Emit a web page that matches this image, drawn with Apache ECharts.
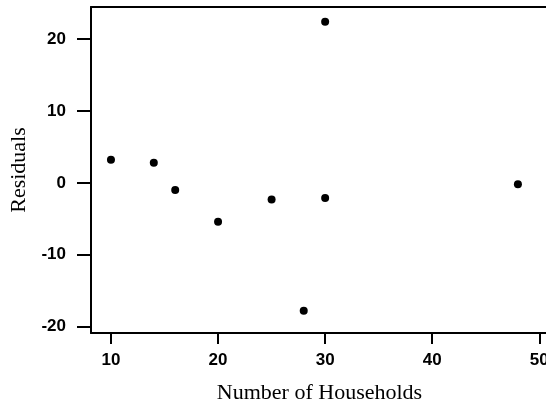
<!DOCTYPE html>
<html>
<head>
<meta charset="utf-8">
<script src="https://cdn.jsdelivr.net/npm/echarts@6/dist/echarts.min.js"></script>
<style>
  html, body { margin: 0; padding: 0; background: #fff; }
  #chart { width: 546px; height: 407px; }
</style>
</head>
<body>
<div id="chart"></div>
<script>
// Residuals plotted against number of households
const households = [10, 14, 16, 20, 25, 28, 30, 30, 48];
const residuals  = [3.2, 2.8, -1.0, -5.4, -2.3, -17.8, 22.4, -2.1, -0.2];
const xTicks = [10, 20, 30, 40, 50];
const yTicks = [-20, -10, 0, 10, 20];

const points = households.map((h, i) => [h, residuals[i]]);

const chart = echarts.init(document.getElementById('chart'), null, { renderer: 'canvas' });

const tickLabelStyle = {
  color: '#000',
  fontFamily: 'Liberation Sans, Arial, sans-serif',
  fontWeight: 'bold',
  fontSize: 17
};
const titleStyle = {
  color: '#000',
  fontFamily: 'Liberation Serif, Times New Roman, serif',
  fontSize: 22
};

chart.setOption({
  animation: false,
  backgroundColor: '#fff',
  grid: { left: 91, top: 7, right: -2, bottom: 74, containLabel: false, outerBoundsMode: 'none' },
  xAxis: [{
    type: 'value',
    min: 8.136,
    max: 50.81,
    name: 'Number of Households',
    nameLocation: 'middle',
    nameGap: 49,
    nameTextStyle: titleStyle,
    splitLine: { show: false },
    axisLine: { show: true, onZero: false, lineStyle: { color: '#000', width: 2 } },
    axisTick: { show: true, customValues: xTicks, length: 11, lineStyle: { color: '#000', width: 2 } },
    axisLabel: Object.assign({ customValues: xTicks, margin: 19 }, tickLabelStyle)
  }, {
    // top frame line
    type: 'value',
    position: 'top',
    min: 8.136,
    max: 50.81,
    splitLine: { show: false },
    axisLine: { show: true, onZero: false, lineStyle: { color: '#000', width: 2 } },
    axisTick: { show: false },
    axisLabel: { show: false }
  }],
  yAxis: {
    type: 'value',
    min: -20.88,
    max: 24.45,
    name: 'Residuals',
    nameLocation: 'middle',
    nameGap: 61,
    nameTextStyle: titleStyle,
    splitLine: { show: false },
    axisLine: { show: true, onZero: false, lineStyle: { color: '#000', width: 2 } },
    axisTick: { show: true, customValues: yTicks, length: 14, lineStyle: { color: '#000', width: 2 } },
    axisLabel: Object.assign({ customValues: yTicks, margin: 25 }, tickLabelStyle)
  },
  series: [{
    type: 'scatter',
    xAxisIndex: 0,
    data: points,
    symbol: 'circle',
    symbolSize: 8,
    itemStyle: { color: '#000', opacity: 1 }
  }]
});
</script>
</body>
</html>
